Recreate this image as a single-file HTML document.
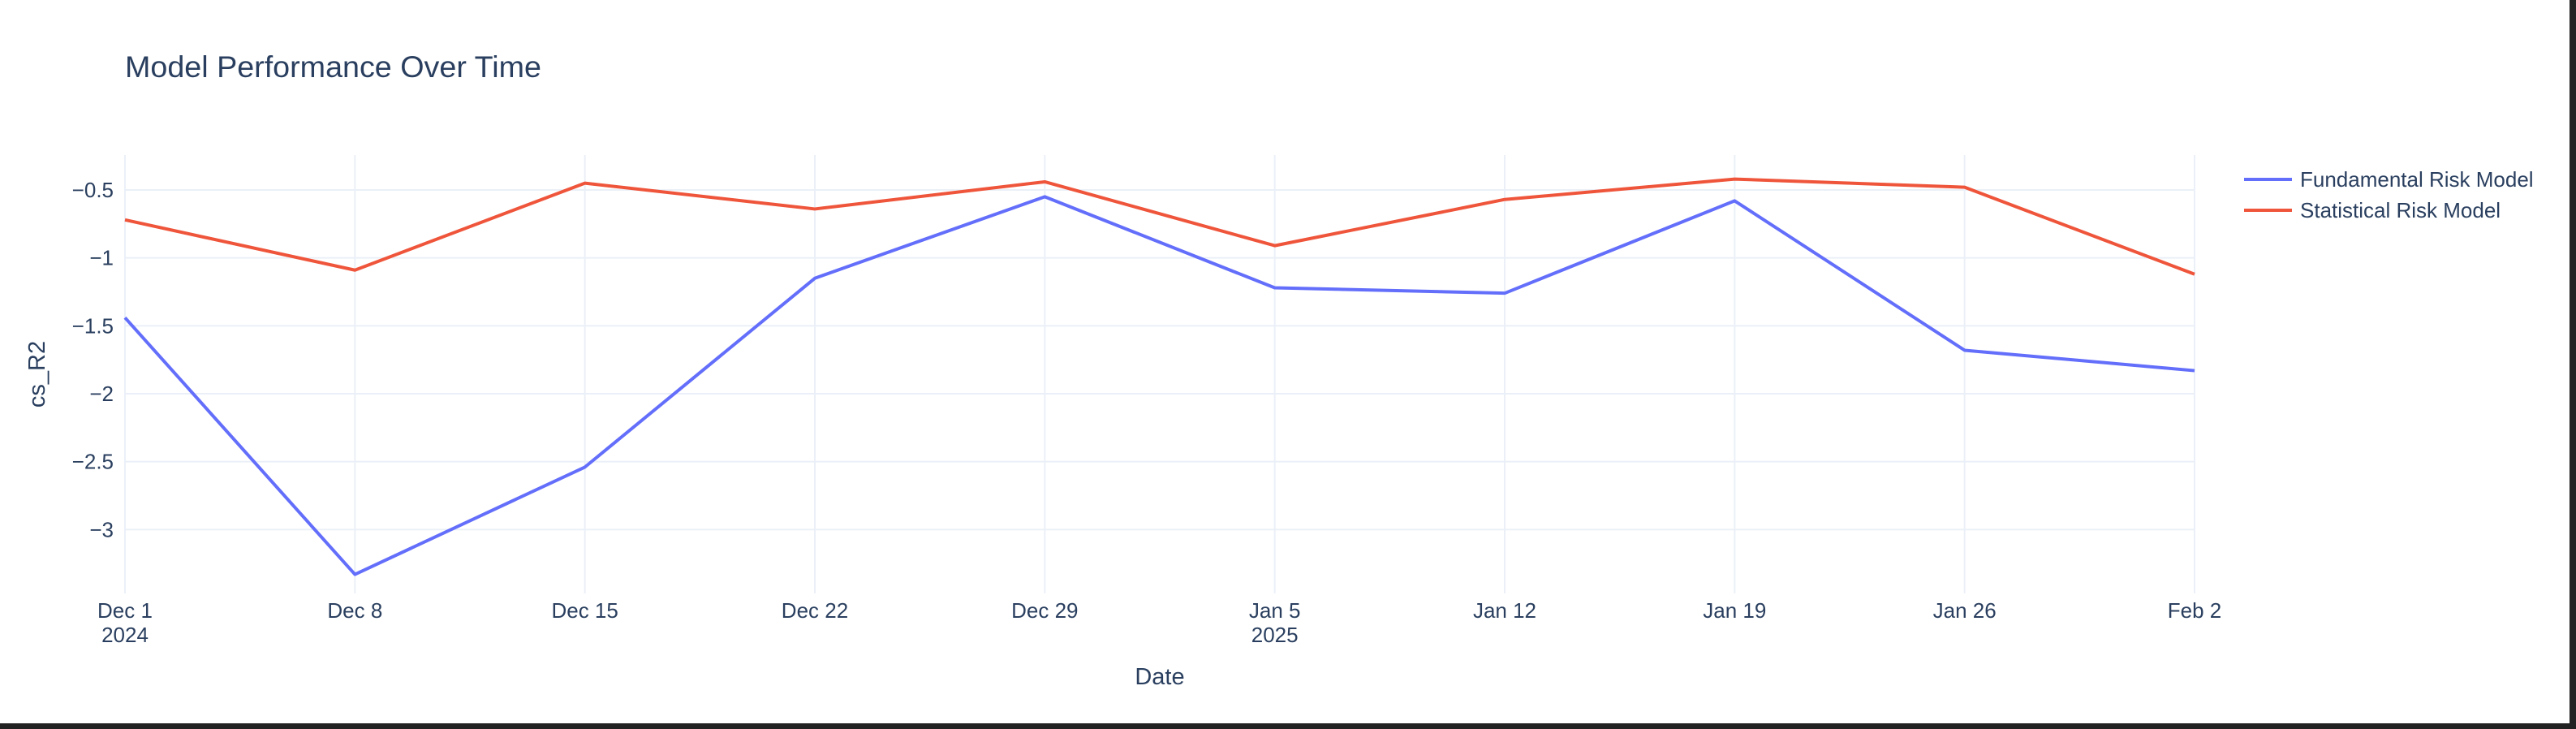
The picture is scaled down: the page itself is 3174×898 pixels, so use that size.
<!DOCTYPE html>
<html><head><meta charset="utf-8"><style>
html,body{margin:0;padding:0;background:#222;}
#wrap{width:3174px;height:898px;position:relative;overflow:hidden;background:#222;}
svg{display:block;}
text{font-family:"Liberation Sans",sans-serif;fill:#2a3f5f;}
</style></head><body>
<div id="wrap">
<svg id="chart" width="3174" height="898">
<rect x="0" y="0" width="3166" height="891" fill="#ffffff"/>
<text x="154" y="95" font-size="37" textLength="513" lengthAdjust="spacingAndGlyphs">Model Performance Over Time</text>
<g id="grid"></g>
<g id="series"></g>
<g id="axes"></g>
<text x="1429" y="843" font-size="29" text-anchor="middle">Date</text>
<text transform="translate(55,461) rotate(-90)" font-size="29" text-anchor="middle">cs_R2</text>
<g>
<g>
<line x1="2765" y1="221" x2="2824" y2="221" stroke="#636efa" stroke-width="4"/>
<text x="2834" y="230" font-size="26">Fundamental Risk Model</text>
</g>
<g>
<line x1="2765" y1="259" x2="2824" y2="259" stroke="#EF553B" stroke-width="4"/>
<text x="2834" y="268" font-size="26">Statistical Risk Model</text>
</g>
</g>
</svg>
</div>
<script>
const categories = ["Dec 1","Dec 8","Dec 15","Dec 22","Dec 29","Jan 5","Jan 12","Jan 19","Jan 26","Feb 2"];
const subLabels = ["2024","","","","","2025","","","",""];
const fundamental = [-1.44,-3.33,-2.54,-1.15,-0.55,-1.22,-1.26,-0.58,-1.68,-1.83];
const statistical = [-0.72,-1.09,-0.45,-0.64,-0.44,-0.91,-0.57,-0.42,-0.48,-1.12];
const yTicks = [-0.5,-1,-1.5,-2,-2.5,-3];
const yTickLabels = ["\u22120.5","\u22121","\u22121.5","\u22122","\u22122.5","\u22123"];

const NS="http://www.w3.org/2000/svg";
const plotL=154, plotR=2704, plotT=191, plotB=731;
const yMin=-3.47, yMax=-0.243;
function xPos(i){return plotL+(plotR-plotL)*i/(categories.length-1);}
function yPos(v){return plotT+(yMax-v)/(yMax-yMin)*(plotB-plotT);}
function mk(tag,attrs,parent){const e=document.createElementNS(NS,tag);for(const k in attrs)e.setAttribute(k,attrs[k]);parent.appendChild(e);return e;}
const grid=document.getElementById('grid'), axes=document.getElementById('axes'), series=document.getElementById('series');
yTicks.forEach((t,i)=>{
  const y=yPos(t);
  const l=mk('line',{x1:plotL,x2:plotR,y1:y,y2:y,stroke:'#ebf0f8','stroke-width':2},grid);
  
  
  const tx=mk('text',{x:plotL-14,y:y+9,'font-size':26,'text-anchor':'end'},axes);
  tx.textContent=yTickLabels[i];
  
  
});
categories.forEach((c,i)=>{
  const x=xPos(i);
  const l=mk('line',{x1:x,x2:x,y1:plotT,y2:plotB,stroke:'#ebf0f8','stroke-width':2},grid);
  
  
  const tx=mk('text',{x:x,y:761,'font-size':26,'text-anchor':'middle'},axes);
  tx.textContent=c;
  
  
  if(subLabels[i]){
    const t2=mk('text',{x:x,y:791,'font-size':26,'text-anchor':'middle'},axes);
    t2.textContent=subLabels[i];
    
    
  }
});
function drawLine(vals,color,name){
  const pts=vals.map((v,i)=>xPos(i)+','+yPos(v)).join(' ');
  const p=mk('polyline',{points:pts,fill:'none',stroke:color,'stroke-width':4,'stroke-linejoin':'round'},series);
  
  
}
drawLine(fundamental,'#636efa','fundamental-risk-line');
drawLine(statistical,'#EF553B','statistical-risk-line');
</script>
</body></html>
